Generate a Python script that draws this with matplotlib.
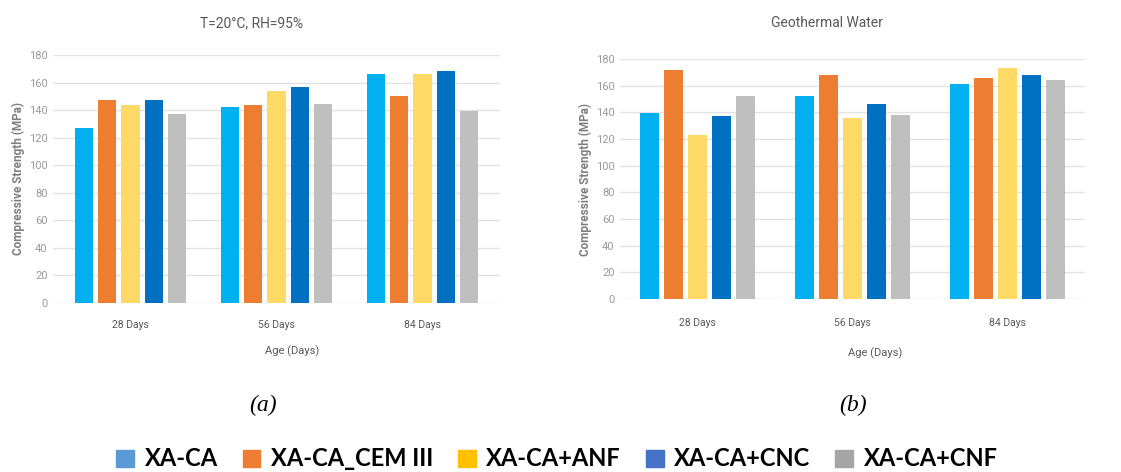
import matplotlib
matplotlib.use("Agg")
import matplotlib.pyplot as plt
from matplotlib.patches import Patch
from matplotlib import font_manager
import numpy as np

categories = ["28 Days", "56 Days", "84 Days"]
series = ["XA-CA", "XA-CA_CEM III", "XA-CA+ANF", "XA-CA+CNC", "XA-CA+CNF"]

# Panel (a): T=20°C, RH=95%
a_xaca = [127, 142.5, 166]
a_cem3 = [147, 144, 150]
a_anf = [144, 154, 166]
a_cnc = [147, 157, 168.5]
a_cnf = [137, 144.5, 139.5]

# Panel (b): Geothermal water
b_xaca = [139.5, 152, 161]
b_cem3 = [171.5, 168, 165.5]
b_anf = [123, 135.5, 173]
b_cnc = [137, 146.5, 168]
b_cnf = [152, 138, 164]

yticks = [0, 20, 40, 60, 80, 100, 120, 140, 160, 180]

bar_colors = ["#00B0F0", "#ED7D31", "#FFD966", "#0070C0", "#BFBFBF"]
legend_colors = ["#5B9BD5", "#ED7D31", "#FFC000", "#4472C4", "#A5A5A5"]

avail = {f.name for f in font_manager.fontManager.ttflist}
narrow = "Liberation Sans Narrow" if "Liberation Sans Narrow" in avail else "Roboto"

fig = plt.figure(figsize=(11.21, 4.72), dpi=100)

def panel(rect, data, xlim, width, step, title, title_x, xpad):
    ax = fig.add_axes(rect)
    x = np.arange(len(categories))
    n = len(data)
    for i, vals in enumerate(data):
        ax.bar(x + (i - (n - 1) / 2) * step, vals, width=width,
               color=bar_colors[i], zorder=3)
    ax.set_xlim(*xlim)
    ax.set_ylim(0, 180)
    ax.set_yticks(yticks)
    ax.set_yticklabels([str(t) for t in yticks], family=narrow, fontsize=8, color="#9A9A9A")
    ax.set_xticks(x)
    ax.set_xticklabels(categories, family=narrow, fontsize=7.5, color="#595959")
    ax.tick_params(axis="y", length=0, pad=4)
    ax.tick_params(axis="x", length=0, pad=xpad)
    for s in ax.spines.values():
        s.set_visible(False)
    ax.grid(axis="y", color="#E3E3E3", linewidth=1, zorder=0)
    ax.set_axisbelow(True)
    ax.set_ylabel("Compressive Strength (MPa)", family=narrow, fontsize=8.5,
                  color="#7F7F7F", fontweight="bold", labelpad=3)
    fig.text(title_x, 1 - 23 / 472, title, ha="center", va="center",
             family=narrow, fontsize=10, color="#595959")
    return ax

axa = panel([53 / 1121, 1 - 303 / 472, 447 / 1121, 248 / 472],
            [a_xaca, a_cem3, a_anf, a_cnc, a_cnf], (-0.53, 2.53), 0.125, 0.16,
            "T=20°C, RH=95%", 252 / 1121, 12)
axb = panel([620 / 1121, 1 - 299 / 472, 465 / 1121, 240 / 472],
            [b_xaca, b_cem3, b_anf, b_cnc, b_cnf], (-0.5, 2.5), 0.117, 0.155,
            "Geothermal Water", 827 / 1121, 14)

fig.text(292 / 1121, 1 - 351 / 472, "Age (Days)", ha="center", va="center",
         family=narrow, fontsize=8, color="#595959")
fig.text(875 / 1121, 1 - 353 / 472, "Age (Days)", ha="center", va="center",
         family=narrow, fontsize=8, color="#595959")

fig.text(263 / 1121, 1 - 405 / 472, "(a)", ha="center", va="center",
         family="Liberation Serif", style="italic", fontsize=17)
fig.text(853 / 1121, 1 - 405 / 472, "(b)", ha="center", va="center",
         family="Liberation Serif", style="italic", fontsize=17)

handles = [Patch(facecolor=c, edgecolor=c) for c in legend_colors]
fig.legend(handles, series, loc="center", bbox_to_anchor=(557 / 1121, 1 - 459 / 472),
           ncol=5, frameon=False, handlelength=0.75, handleheight=0.75,
           handletextpad=0.45, columnspacing=1.05,
           prop={"family": "Lato", "weight": "bold", "size": 17})

fig.savefig("out.png", dpi=100)
